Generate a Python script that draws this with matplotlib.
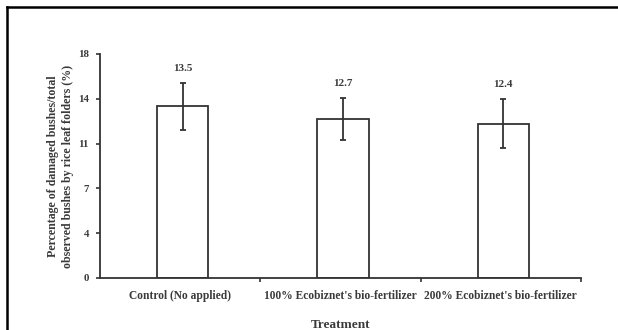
import matplotlib.pyplot as plt
from matplotlib.lines import Line2D
from matplotlib.ticker import FixedLocator, FixedFormatter

# data
treatments = ["Control (No applied)",
              "100% Ecobiznet's bio-fertilizer",
              "200% Ecobiznet's bio-fertilizer"]
damage_pct = [13.8, 12.8, 12.4]
damage_err = [1.9, 1.7, 1.95]
value_labels = ["13.5", "12.7", "12.4"]
ytick_vals = [0, 3.6, 7.2, 10.8, 14.4, 18]
ytick_labels = ["0", "4", "7", "11", "14", "18"]

plt.rcParams["font.family"] = "Liberation Serif"
plt.rcParams["font.weight"] = "bold"
plt.rcParams["axes.labelweight"] = "bold"

fig = plt.figure(figsize=(6.18, 3.3), dpi=100)
ax = fig.add_axes([0.1618, 0.1576, 0.7782, 0.6788])

edge = "#333333"
txt = "#3a3a3a"
x = [i + 0.016 for i in range(len(treatments))]
ax.bar(x, damage_pct, width=0.32, color="white", edgecolor=edge, linewidth=1.3)
ax.errorbar(x, damage_pct, yerr=damage_err, fmt="none", ecolor=edge,
            elinewidth=1.3, capsize=2.5, capthick=1.3)

for xi, v, e, lab in zip(x, damage_pct, damage_err, value_labels):
    ax.text(xi, v + e + 0.8, lab, ha="center", va="bottom", fontsize=8,
            color=txt)

ax.set_xlim(-0.5, 2.5)
ax.set_ylim(0, 18)

# y ticks: evenly spaced, labelled with rounded values
ax.yaxis.set_major_locator(FixedLocator(ytick_vals))
ax.yaxis.set_major_formatter(FixedFormatter(ytick_labels))

# x ticks sit on category boundaries, labels in the middle
ax.set_xticks([0.5, 1.5, 2.5])
ax.set_xticklabels([])
ax.set_xticks([0, 1, 2], minor=True)
ax.set_xticklabels(treatments, minor=True, fontsize=8.3, color=txt)
ax.tick_params(axis="x", which="minor", length=0, pad=9)
ax.tick_params(axis="x", which="major", length=3, width=1.2, color=edge)
ax.tick_params(axis="y", length=3, width=1.2, color=edge, labelsize=7.8,
               labelcolor=txt, pad=5)

for s in ["top", "right"]:
    ax.spines[s].set_visible(False)
for s in ["left", "bottom"]:
    ax.spines[s].set_color(edge)
    ax.spines[s].set_linewidth(1.3)

ax.set_xlabel("Treatment", fontsize=9.5, color=txt, labelpad=12)
ax.set_ylabel("Percentage of damaged bushes/total\nobserved bushes by rice leaf folders (%)",
              fontsize=8.6, color=txt, labelpad=3, linespacing=1.3)

# page frame (top and left edges only)
fig.add_artist(Line2D([7 / 618, 1.0], [1 - 6.5 / 330, 1 - 6.5 / 330],
                      color="black", linewidth=1.8))
fig.add_artist(Line2D([7 / 618, 7 / 618], [0.0, 1 - 6.5 / 330],
                      color="black", linewidth=1.8))

fig.savefig("out.png", dpi=100)
